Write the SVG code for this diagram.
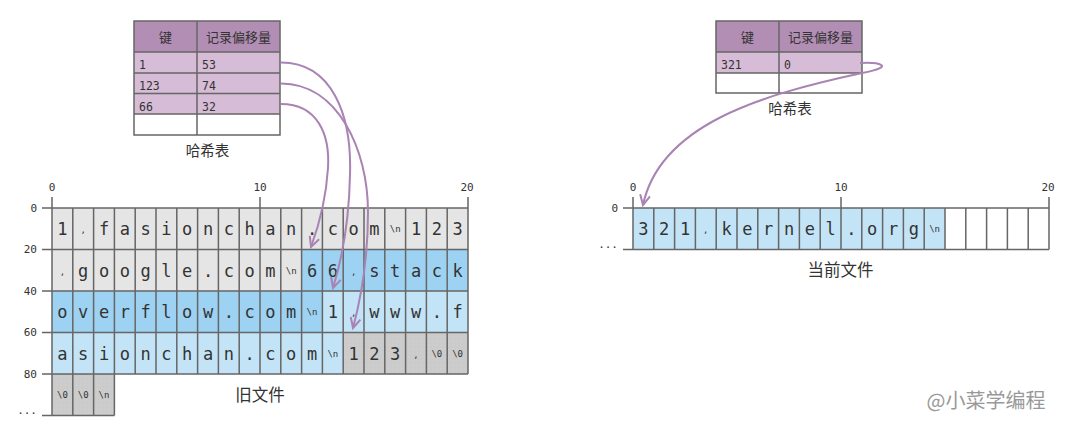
<svg xmlns="http://www.w3.org/2000/svg" width="1080" height="447" viewBox="0 0 1080 447">
<defs>
<style>
.ln{stroke:#666;stroke-width:1.5;fill:none}
.g{fill:#e5e5e5}.b{fill:#9ed2f2}.lb{fill:#c3e4f6}.d{fill:url(#dots)}.w{fill:#fff}
.hd{fill:#b28eb4}.rw{fill:#d6bcd6}
.c{font-family:"DejaVu Sans Mono","Liberation Mono",monospace;font-size:17px;fill:#333;text-anchor:middle}
.s{font-family:"DejaVu Sans Mono","Liberation Mono",monospace;font-size:9px;fill:#333;text-anchor:middle}
.ax{font-family:"DejaVu Sans Mono","Liberation Mono",monospace;font-size:11px;fill:#333}
.axm{text-anchor:middle}.axe{text-anchor:end}
.th{font-family:"Noto Sans CJK SC","Noto Sans",sans-serif;font-size:13px;fill:#333;text-anchor:middle}
.td{font-family:"DejaVu Sans Mono","Liberation Mono",monospace;font-size:11.5px;fill:#333}
.lab{font-family:"Noto Sans CJK SC","Noto Sans",sans-serif;font-size:16.5px;fill:#333;text-anchor:middle}
.labs{font-family:"Noto Sans CJK SC","Noto Sans",sans-serif;font-size:14.5px;fill:#333;text-anchor:middle}
.arr{stroke:#a983b4;stroke-width:2;fill:none;marker-end:url(#ah)}
</style>
<pattern id="dots" width="4" height="4" patternUnits="userSpaceOnUse">
<rect width="4" height="4" fill="#cbcbcb"/>
<circle cx="1" cy="1" r="0.5" fill="#dadada"/>
</pattern>
<marker id="ah" markerWidth="14" markerHeight="14" refX="11" refY="6" orient="auto" markerUnits="userSpaceOnUse">
<path d="M1,1 L11,6 L1,11" fill="none" stroke="#a983b4" stroke-width="2"/>
</marker>
</defs>
<rect width="1080" height="447" fill="#fff"/>

<!-- left hash table -->
<g id="hash-old">
<rect class="hd" x="134" y="21" width="146" height="31"/>
<rect class="rw" x="134" y="52" width="146" height="62"/>
<rect class="w" x="134" y="114" width="146" height="21"/>
<path class="ln" d="M134 21H280V135H134Z M134 52H280 M134 73H280 M134 93.5H280 M134 114H280 M197 21V135"/>
<text class="th" x="165.5" y="42">键</text>
<text class="th" x="238.5" y="42">记录偏移量</text>
<text class="td" x="139" y="69">1</text><text class="td" x="202" y="69">53</text>
<text class="td" x="139" y="90">123</text><text class="td" x="202" y="90">74</text>
<text class="td" x="139" y="110.5">66</text><text class="td" x="202" y="110.5">32</text>
<text class="labs" x="207.5" y="156">哈希表</text>
</g>

<!-- right hash table -->
<g id="hash-new">
<rect class="hd" x="716" y="21" width="146" height="31"/>
<rect class="rw" x="716" y="52" width="146" height="21"/>
<rect class="w" x="716" y="73" width="146" height="20"/>
<path class="ln" d="M716 21H862V93H716Z M716 52H862 M716 73H862 M779 21V93"/>
<text class="th" x="747.5" y="42">键</text>
<text class="th" x="820.5" y="42">记录偏移量</text>
<text class="td" x="721" y="69">321</text><text class="td" x="784" y="69">0</text>
<text class="labs" x="790" y="114">哈希表</text>
</g>

<!-- old file grid -->
<g id="old-file">
<rect class="g" x="52" y="208" width="416" height="41.5"/>
<rect class="g" x="52" y="249.5" width="249.6" height="41.5"/>
<rect class="b" x="301.6" y="249.5" width="166.4" height="41.5"/>
<rect class="b" x="52" y="291" width="270.4" height="41.5"/>
<rect class="lb" x="322.4" y="291" width="145.6" height="41.5"/>
<rect class="lb" x="52" y="332.5" width="291.2" height="41.5"/>
<rect class="d" x="343.2" y="332.5" width="124.8" height="41.5"/>
<rect class="d" x="52" y="374" width="62.4" height="41.5"/>
<path class="ln" d="M42 208H468 M42 249.5H468 M42 291H468 M42 332.5H468 M42 374H468 M42 415.5H114.4
M52 197V415.5 M72.8 208V415.5 M93.6 208V415.5 M114.4 208V415.5 M135.2 208V374 M156 208V374 M176.8 208V374 M197.6 208V374 M218.4 208V374 M239.2 208V374 M260 197V374 M280.8 208V374 M301.6 208V374 M322.4 208V374 M343.2 208V374 M364 208V374 M384.8 208V374 M405.6 208V374 M426.4 208V374 M447.2 208V374 M468 197V374"/>
<text class="ax axm" x="52" y="191">0</text>
<text class="ax axm" x="260" y="191">10</text>
<text class="ax axm" x="467" y="191">20</text>
<text class="ax axe" x="37" y="212">0</text>
<text class="ax axe" x="37" y="253">20</text>
<text class="ax axe" x="37" y="295">40</text>
<text class="ax axe" x="37" y="336">60</text>
<text class="ax axe" x="37" y="378">80</text>
<text class="ax axe" x="37" y="414">...</text>
<!-- row 0 -->
<text class="c" x="62.4" y="235">1</text><text class="s" x="83.2" y="233">,</text><text class="c" x="104" y="235">f</text><text class="c" x="124.8" y="235">a</text><text class="c" x="145.6" y="235">s</text><text class="c" x="166.4" y="235">i</text><text class="c" x="187.2" y="235">o</text><text class="c" x="208" y="235">n</text><text class="c" x="228.8" y="235">c</text><text class="c" x="249.6" y="235">h</text><text class="c" x="270.4" y="235">a</text><text class="c" x="291.2" y="235">n</text><text class="c" x="312" y="235">.</text><text class="c" x="332.8" y="235">c</text><text class="c" x="353.6" y="235">o</text><text class="c" x="374.4" y="235">m</text><text class="s" x="395.2" y="232">\n</text><text class="c" x="416" y="235">1</text><text class="c" x="436.8" y="235">2</text><text class="c" x="457.6" y="235">3</text>
<!-- row 1 -->
<text class="s" x="62.4" y="274.5">,</text><text class="c" x="83.2" y="276.5">g</text><text class="c" x="104" y="276.5">o</text><text class="c" x="124.8" y="276.5">o</text><text class="c" x="145.6" y="276.5">g</text><text class="c" x="166.4" y="276.5">l</text><text class="c" x="187.2" y="276.5">e</text><text class="c" x="208" y="276.5">.</text><text class="c" x="228.8" y="276.5">c</text><text class="c" x="249.6" y="276.5">o</text><text class="c" x="270.4" y="276.5">m</text><text class="s" x="291.2" y="273.5">\n</text><text class="c" x="312" y="276.5">6</text><text class="c" x="332.8" y="276.5">6</text><text class="s" x="353.6" y="274.5">,</text><text class="c" x="374.4" y="276.5">s</text><text class="c" x="395.2" y="276.5">t</text><text class="c" x="416" y="276.5">a</text><text class="c" x="436.8" y="276.5">c</text><text class="c" x="457.6" y="276.5">k</text>
<!-- row 2 -->
<text class="c" x="62.4" y="318">o</text><text class="c" x="83.2" y="318">v</text><text class="c" x="104" y="318">e</text><text class="c" x="124.8" y="318">r</text><text class="c" x="145.6" y="318">f</text><text class="c" x="166.4" y="318">l</text><text class="c" x="187.2" y="318">o</text><text class="c" x="208" y="318">w</text><text class="c" x="228.8" y="318">.</text><text class="c" x="249.6" y="318">c</text><text class="c" x="270.4" y="318">o</text><text class="c" x="291.2" y="318">m</text><text class="s" x="312" y="315">\n</text><text class="c" x="332.8" y="318">1</text><text class="s" x="353.6" y="316">,</text><text class="c" x="374.4" y="318">w</text><text class="c" x="395.2" y="318">w</text><text class="c" x="416" y="318">w</text><text class="c" x="436.8" y="318">.</text><text class="c" x="457.6" y="318">f</text>
<!-- row 3 -->
<text class="c" x="62.4" y="359.5">a</text><text class="c" x="83.2" y="359.5">s</text><text class="c" x="104" y="359.5">i</text><text class="c" x="124.8" y="359.5">o</text><text class="c" x="145.6" y="359.5">n</text><text class="c" x="166.4" y="359.5">c</text><text class="c" x="187.2" y="359.5">h</text><text class="c" x="208" y="359.5">a</text><text class="c" x="228.8" y="359.5">n</text><text class="c" x="249.6" y="359.5">.</text><text class="c" x="270.4" y="359.5">c</text><text class="c" x="291.2" y="359.5">o</text><text class="c" x="312" y="359.5">m</text><text class="s" x="332.8" y="356.5">\n</text><text class="c" x="353.6" y="359.5">1</text><text class="c" x="374.4" y="359.5">2</text><text class="c" x="395.2" y="359.5">3</text><text class="s" x="416" y="357.5">,</text><text class="s" x="436.8" y="356.5">\0</text><text class="s" x="457.6" y="356.5">\0</text>
<!-- row 4 -->
<text class="s" x="62.4" y="398">\0</text><text class="s" x="83.2" y="398">\0</text><text class="s" x="104" y="398">\n</text>
<text class="lab" x="260" y="401">旧文件</text>
</g>

<!-- current file grid -->
<g id="current-file">
<rect class="lb" x="633" y="208" width="312" height="41.5"/>
<rect class="w" x="945" y="208" width="104" height="41.5"/>
<path class="ln" d="M623 208H1049 M623 249.5H1049
M633 197V249.5 M653.8 208V249.5 M674.6 208V249.5 M695.4 208V249.5 M716.2 208V249.5 M737 208V249.5 M757.8 208V249.5 M778.6 208V249.5 M799.4 208V249.5 M820.2 208V249.5 M841 197V249.5 M861.8 208V249.5 M882.6 208V249.5 M903.4 208V249.5 M924.2 208V249.5 M945 208V249.5 M965.8 208V249.5 M986.6 208V249.5 M1007.4 208V249.5 M1028.2 208V249.5 M1049 197V249.5"/>
<text class="ax axm" x="633" y="191">0</text>
<text class="ax axm" x="841" y="191">10</text>
<text class="ax axm" x="1048" y="191">20</text>
<text class="ax axe" x="618" y="212">0</text>
<text class="ax axe" x="618" y="248">...</text>
<text class="c" x="643.4" y="235">3</text><text class="c" x="664.2" y="235">2</text><text class="c" x="685" y="235">1</text><text class="s" x="705.8" y="233">,</text><text class="c" x="726.6" y="235">k</text><text class="c" x="747.4" y="235">e</text><text class="c" x="768.2" y="235">r</text><text class="c" x="789" y="235">n</text><text class="c" x="809.8" y="235">e</text><text class="c" x="830.6" y="235">l</text><text class="c" x="851.4" y="235">.</text><text class="c" x="872.2" y="235">o</text><text class="c" x="893" y="235">r</text><text class="c" x="913.8" y="235">g</text><text class="s" x="934.6" y="232">\n</text>
<text class="lab" x="840.5" y="276">当前文件</text>
</g>

<!-- connectors -->
<g id="connectors">
<path class="arr" d="M281 62.5 C332 62.5 352 115 350 175 C349 225 341 262 333 288"/>
<path class="arr" d="M281 83.5 C338 83.5 368 150 368 212 C368 260 361 298 353 328"/>
<path class="arr" d="M281 104 C318 104 330 135 328 168 C326 200 318 228 311 247"/>
<path class="arr" d="M860 63 C878 62 898 66 862 73 C760 95 660 125 643 205"/>
</g>

<text x="986" y="408" font-family="Noto Sans CJK SC, Noto Sans, sans-serif" font-size="20" fill="#999" text-anchor="middle">@小菜学编程</text>
</svg>
